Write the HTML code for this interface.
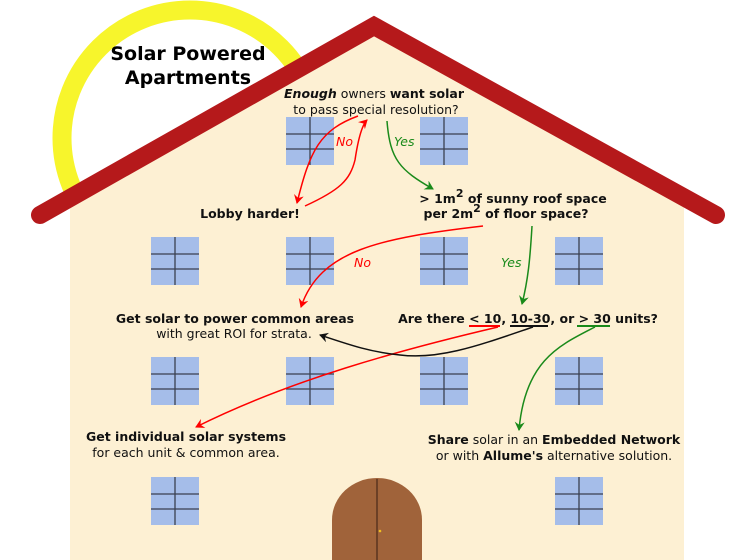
<!DOCTYPE html>
<html><head><style>
html,body{margin:0;padding:0;background:#fff;}
svg{display:block;}
text{font-family:"DejaVu Sans","Liberation Sans",sans-serif;font-size:12.5px;fill:#111;}
.b{font-weight:bold;}
</style></head><body>
<svg width="754" height="560" viewBox="0 0 754 560" xmlns="http://www.w3.org/2000/svg">
<defs>
<marker id="ar" markerWidth="10" markerHeight="10" refX="8" refY="5" orient="auto" markerUnits="userSpaceOnUse"><path d="M0,0 L9,5 L0,10 L3,5 Z" fill="#f00"/></marker>
<marker id="ag" markerWidth="10" markerHeight="10" refX="8" refY="5" orient="auto" markerUnits="userSpaceOnUse"><path d="M0,0 L9,5 L0,10 L3,5 Z" fill="#1a8a1a"/></marker>
<marker id="ak" markerWidth="10" markerHeight="10" refX="8" refY="5" orient="auto" markerUnits="userSpaceOnUse"><path d="M0,0 L9,5 L0,10 L3,5 Z" fill="#111"/></marker>
<g id="w"><rect x="0" y="0" width="48" height="48" fill="#a5bde9"/><path d="M24,0V48M0,17H48M0,32H48" stroke="#3a4050" stroke-width="1.3"/></g>
</defs>
<circle cx="190" cy="138" r="128" fill="none" stroke="#f7f52c" stroke-width="19"/>
<polygon points="70,200 374,27 684,200 684,560 70,560" fill="#fdf0d3"/>
<text class="b" x="188" y="60" text-anchor="middle" style="font-size:19px;fill:#000">Solar Powered</text>
<text class="b" x="188" y="84" text-anchor="middle" style="font-size:19px;fill:#000">Apartments</text>
<polyline points="40,215 374,26 716,215" fill="none" stroke="#b5191b" stroke-width="18" stroke-linecap="round" stroke-linejoin="miter"/>
<use href="#w" x="286" y="117"/><use href="#w" x="420" y="117"/>
<use href="#w" x="151" y="237"/><use href="#w" x="286" y="237"/><use href="#w" x="420" y="237"/><use href="#w" x="555" y="237"/>
<use href="#w" x="151" y="357"/><use href="#w" x="286" y="357"/><use href="#w" x="420" y="357"/><use href="#w" x="555" y="357"/>
<use href="#w" x="151" y="477"/><use href="#w" x="555" y="477"/>
<path d="M332,560 V520 A45,42 0 0 1 422,520 V560 Z" fill="#a0633a"/>
<path d="M377,479V560" stroke="#5a3520" stroke-width="1.5"/>
<circle cx="380" cy="531" r="1.3" fill="#f0c020"/>
<text x="374" y="98" text-anchor="middle"><tspan class="b" font-style="italic">Enough</tspan> owners <tspan class="b">want solar</tspan></text>
<text x="376" y="114" text-anchor="middle">to pass special resolution?</text>
<text class="b" x="250" y="218" text-anchor="middle">Lobby harder!</text>
<text class="b" x="513" y="203" text-anchor="middle">&gt; 1m<tspan dy="-6" style="font-size:11px">2</tspan><tspan dy="6"> of sunny roof space</tspan></text>
<text class="b" x="506" y="218" text-anchor="middle">per 2m<tspan dy="-6" style="font-size:11px">2</tspan><tspan dy="6"> of floor space?</tspan></text>
<text class="b" x="235" y="323" text-anchor="middle">Get solar to power common areas</text>
<text x="234" y="338" text-anchor="middle">with great ROI for strata.</text>
<text class="b" x="528" y="323" text-anchor="middle">Are there &lt; 10, 10-30, or &gt; 30 units?</text>
<text class="b" x="186" y="441" text-anchor="middle">Get individual solar systems</text>
<text x="186" y="457" text-anchor="middle">for each unit &amp; common area.</text>
<text x="554" y="444" text-anchor="middle"><tspan class="b">Share</tspan> solar in an <tspan class="b">Embedded Network</tspan></text>
<text x="554" y="460" text-anchor="middle">or with <tspan class="b">Allume's</tspan> alternative solution.</text>
<path d="M469,326H500" stroke="#f00" stroke-width="2"/>
<path d="M510,326H548" stroke="#111" stroke-width="2"/>
<path d="M577,326H610" stroke="#1a8a1a" stroke-width="2"/>
<text x="336" y="146" style="fill:#f00;font-style:italic">No</text>
<text x="394" y="146" style="fill:#1a8a1a;font-style:italic">Yes</text>
<text x="354" y="267" style="fill:#f00;font-style:italic">No</text>
<text x="501" y="267" style="fill:#1a8a1a;font-style:italic">Yes</text>
<g fill="none" stroke-width="1.5">
<path d="M358,116 C320,130 310,150 297,203" stroke="#f00" marker-end="url(#ar)"/>
<path d="M305,206 C340,190 350,180 355,160 C358,140 362,125 367,120" stroke="#f00" marker-end="url(#ar)"/>
<path d="M387,121 C390,160 400,170 433,189" stroke="#1a8a1a" marker-end="url(#ag)"/>
<path d="M483,226 C380,238 320,250 301,307" stroke="#f00" marker-end="url(#ar)"/>
<path d="M532,226 C530,260 528,280 522,304" stroke="#1a8a1a" marker-end="url(#ag)"/>
<path d="M498,327 C400,350 290,380 196,427" stroke="#f00" marker-end="url(#ar)"/>
<path d="M533,327 C480,345 440,360 400,355 C370,352 350,345 320,335" stroke="#111" marker-end="url(#ak)"/>
<path d="M595,327 C560,345 525,360 519,430" stroke="#1a8a1a" marker-end="url(#ag)"/>
</g>
</svg>
</body></html>
